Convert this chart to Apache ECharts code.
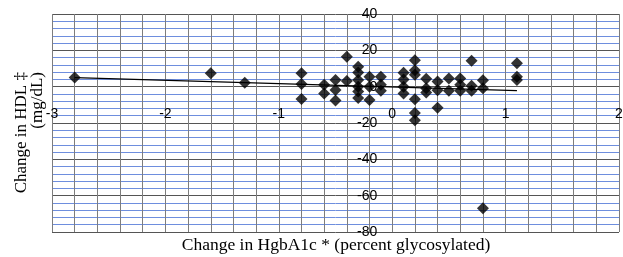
<!DOCTYPE html>
<html>
<head>
<meta charset="utf-8">
<script src="https://cdn.jsdelivr.net/npm/echarts@6/dist/echarts.min.js"></script>
<style>
  html, body { margin: 0; padding: 0; background: #fff; }
  #main { width: 623px; height: 257px; }
</style>
</head>
<body>
<div id="main"></div>
<script>
// 每个点：HbA1c 变化 (x) 与 HDL 变化 (y)
var hba1c = [
  -2.8, -1.6, -1.3,
  -0.8, -0.8, -0.8,
  -0.6, -0.6,
  -0.5, -0.5, -0.5,
  -0.4, -0.4,
  -0.3, -0.3, -0.3, -0.3, -0.3, -0.3,
  -0.2, -0.2, -0.2,
  -0.1, -0.1, -0.1,
  0.1, 0.1, 0.1, 0.1,
  0.2, 0.2, 0.2, 0.2, 0.2, 0.2,
  0.3, 0.3, 0.3,
  0.4, 0.4, 0.4,
  0.5, 0.5,
  0.6, 0.6, 0.6,
  0.7, 0.7, 0.7,
  0.8, 0.8, 0.8,
  1.1, 1.1, 1.1
];
var hdl = [
  5, 7.4, 2.2,
  7.4, 1.5, -6.8,
  1, -3.8,
  3.7, -1.8, -7.6,
  16.4, 3.1,
  11, 7.8, 3.7, 0, -2.7, -6.2,
  5.5, 0, -7.3,
  5.5, 1, -2.2,
  7.6, 4, 0, -3.8,
  14.6, 9, 6.6, -6.9, -14.5, -18.5,
  4.3, -0.9, -3.2,
  2.8, -2, -11.6,
  4.5, -2.2,
  4.5, 1, -2.2,
  14.3, 0.5, -2.2,
  3.5, -0.9, -66.9,
  12.9, 5.5, 3.7
];
// 趋势线两端
var trendX = [-2.8, 1.1];
var trendY = [5, -2.2];

var points = [];
for (var i in hba1c) {
  points.push([hba1c[i], hdl[i]]);
}
var trend = [];
for (var j in trendX) {
  trend.push([trendX[j], trendY[j]]);
}

var myChart = echarts.init(document.getElementById('main'));

var option = {
  animation: false,
  grid: {
    left: 52,
    top: 14,
    right: 4,
    bottom: 25,
    outerBoundsMode: 'none'
  },
  xAxis: {
    type: 'value',
    min: -3,
    max: 2,
    interval: 1,
    // 标签放到 y=0 那条线下方（轴往上挪）
    offset: -145.3,
    axisLine: { show: false, onZero: false },
    axisTick: { show: false },
    axisLabel: {
      margin: 20,
      color: '#000',
      fontSize: 14,
      fontFamily: 'Liberation Sans'
    },
    splitLine: {
      show: true,
      lineStyle: { color: '#7d7d7d', width: 1 }
    },
    minorTick: { show: false, splitNumber: 5 },
    minorSplitLine: {
      show: true,
      lineStyle: { color: '#7d7d7d', width: 1 }
    }
  },
  yAxis: {
    type: 'value',
    min: -80,
    max: 40,
    interval: 20,
    // 标签贴着 x=0
    offset: -340.2,
    axisLine: { show: false, onZero: false },
    axisTick: { show: false },
    axisLabel: {
      margin: 15,
      color: '#000',
      fontSize: 14,
      fontFamily: 'Liberation Sans'
    },
    splitLine: {
      show: true,
      lineStyle: { color: '#555', width: 1 }
    },
    minorTick: { show: false, splitNumber: 5 },
    minorSplitLine: {
      show: true,
      lineStyle: { color: '#6e8ede', width: 1 }
    }
  },
  graphic: [
    {
      type: 'text',
      x: 22,
      y: 72,
      rotation: Math.PI / 2,
      style: {
        text: 'Change in HDL \u2021',
        fill: '#000',
        font: '17px "Liberation Serif"',
        align: 'right',
        verticalAlign: 'middle'
      }
    },
    {
      type: 'text',
      x: 38,
      y: 72,
      rotation: Math.PI / 2,
      style: {
        text: '(mg/dL)',
        fill: '#000',
        font: '17px "Liberation Serif"',
        align: 'right',
        verticalAlign: 'middle'
      }
    },
    {
      type: 'text',
      x: 336,
      y: 245,
      style: {
        text: 'Change in HgbA1c * (percent glycosylated)',
        fill: '#000',
        font: '17.5px "Liberation Serif"',
        align: 'center',
        verticalAlign: 'middle'
      }
    }
  ],
  series: [
    {
      type: 'line',
      data: trend,
      symbol: 'none',
      lineStyle: { color: '#000', width: 1.2 },
      z: 3
    },
    {
      type: 'scatter',
      data: points,
      symbol: 'diamond',
      symbolSize: 12,
      itemStyle: { color: '#000' },
      z: 4
    }
  ]
};

myChart.setOption(option);
</script>
</body>
</html>
